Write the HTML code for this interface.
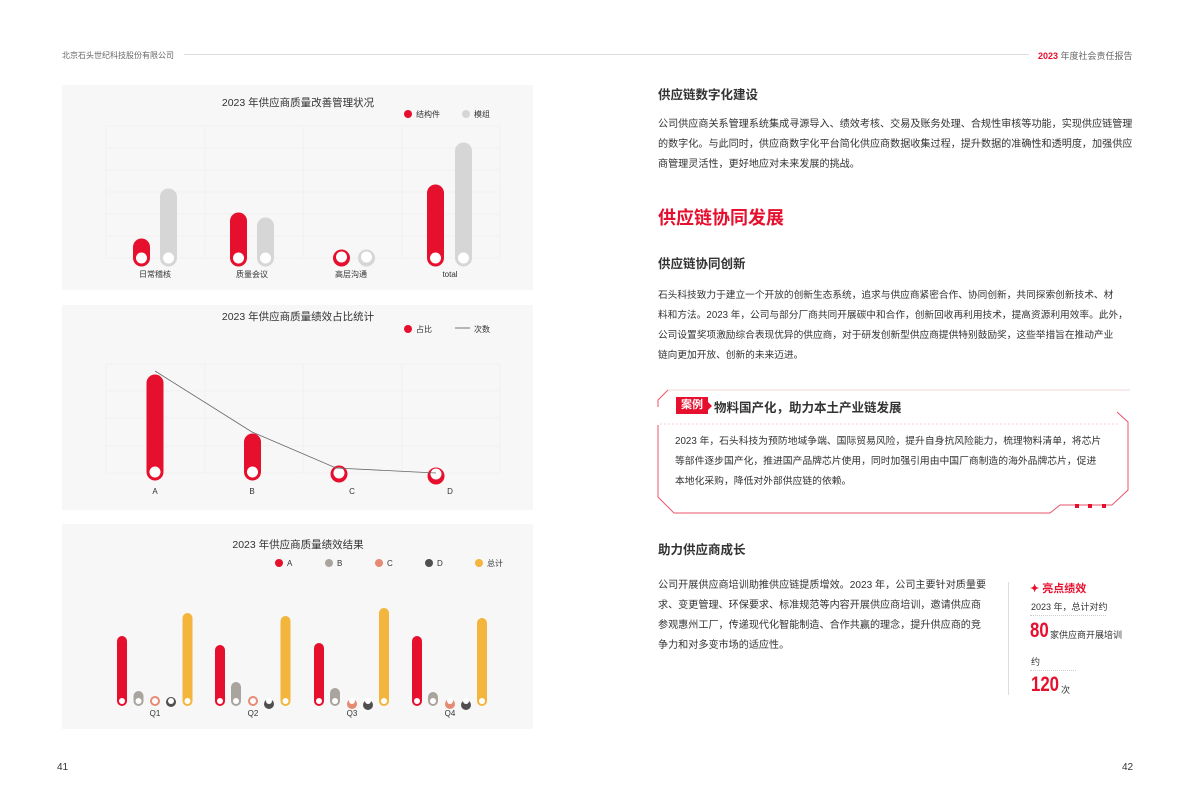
<!DOCTYPE html>
<html><head><meta charset="utf-8"><style>
*{margin:0;padding:0;box-sizing:border-box}
body{width:1191px;height:809px;background:#fff;position:relative;overflow:hidden;font-family:"Liberation Sans","Noto Sans CJK SC",sans-serif;color:#333}
.a{position:absolute;white-space:nowrap}
.p{font-size:10.1px;line-height:20px;color:#333}
.h{font-size:12.5px;font-weight:bold;color:#333}
</style></head><body>
<div class="a" style="left:62px;top:50px;font-size:8px;color:#666">北京石头世纪科技股份有限公司</div>
<div class="a" style="left:184px;top:54px;width:845px;height:1px;background:#ddd"></div>
<div class="a" style="left:1038px;top:49px;font-size:9px;color:#666"><b style="color:#e60f2d">2023</b> 年度社会责任报告</div>

<svg class="a" style="left:0;top:0" width="540" height="740" font-family="Liberation Sans,Noto Sans CJK SC,sans-serif">
<rect x="62" y="85" width="471" height="205" fill="#f6f7f6"/>
<rect x="62" y="305" width="471" height="205" fill="#f6f7f6"/>
<rect x="62" y="524" width="471" height="205" fill="#f6f7f6"/>
<g stroke="#ebeceb" stroke-width="0.6" fill="none">
<path d="M106 126H500M106 148H500M106 170H500M106 192H500M106 214H500M106 236H500M106 258H500M106 126V258M205 126V258M303 126V258M402 126V258M500 126V258"/>
<path d="M106 364H500M106 391H500M106 418H500M106 446H500M106 473H500M106 364V473M205 364V473M303 364V473M402 364V473M500 364V473"/>
</g>
<text x="298" y="106" font-size="10.5" text-anchor="middle" fill="#333">2023 年供应商质量改善管理状况</text>
<circle cx="408" cy="114" r="4" fill="#e60f2d"/><text x="416" y="117" font-size="8" fill="#333">结构件</text>
<circle cx="466" cy="114" r="4" fill="#d6d6d6"/><text x="474" y="117" font-size="8" fill="#333">模组</text>
<g stroke-linecap="round" stroke-width="17">
<line x1="141.5" y1="247" x2="141.5" y2="258" stroke="#e60f2d"/>
<line x1="168.5" y1="197" x2="168.5" y2="258" stroke="#d6d6d6"/>
<line x1="238.5" y1="221" x2="238.5" y2="258" stroke="#e60f2d"/>
<line x1="265.5" y1="226" x2="265.5" y2="258" stroke="#d6d6d6"/>
<line x1="341.5" y1="258" x2="341.5" y2="258" stroke="#e60f2d"/>
<line x1="366.5" y1="258" x2="366.5" y2="258" stroke="#d6d6d6"/>
<line x1="435.5" y1="193" x2="435.5" y2="258" stroke="#e60f2d"/>
<line x1="463.5" y1="151" x2="463.5" y2="258" stroke="#d6d6d6"/>
</g>
<g fill="#fff"><circle cx="141.5" cy="258" r="5.5"/><circle cx="168.5" cy="258" r="5.5"/><circle cx="238.5" cy="258" r="5.5"/><circle cx="265.5" cy="258" r="5.5"/><circle cx="341.5" cy="257" r="5.5"/><circle cx="366.5" cy="257" r="5.5"/><circle cx="435.5" cy="258" r="5.5"/><circle cx="463.5" cy="258" r="5.5"/></g>
<g font-size="8" text-anchor="middle" fill="#333"><text x="155" y="277">日常稽核</text><text x="252" y="277">质量会议</text><text x="351" y="277">高层沟通</text><text x="450" y="277">total</text></g>

<text x="298" y="320" font-size="10.5" text-anchor="middle" fill="#333">2023 年供应商质量绩效占比统计</text>
<circle cx="408" cy="329" r="4" fill="#e60f2d"/><text x="416" y="332" font-size="8" fill="#333">占比</text>
<line x1="455" y1="328" x2="470" y2="328" stroke="#555" stroke-width="0.8"/><text x="474" y="332" font-size="8" fill="#333">次数</text>
<g stroke-linecap="round" stroke-width="17" stroke="#e60f2d">
<line x1="155" y1="383" x2="155" y2="472"/><line x1="252.5" y1="442" x2="252.5" y2="472"/>
<line x1="339" y1="474" x2="339" y2="474"/><line x1="436" y1="476" x2="436" y2="476"/></g>
<g fill="#fff"><circle cx="155" cy="472" r="5.5"/><circle cx="252.5" cy="472" r="5.5"/><circle cx="339" cy="473" r="5.5"/><circle cx="436" cy="474" r="5.5"/></g>
<polyline points="155,371 252,432 336,468 436,473" fill="none" stroke="#666" stroke-width="0.8"/>
<g font-size="8" text-anchor="middle" fill="#333"><text x="155" y="494">A</text><text x="252" y="494">B</text><text x="352" y="494">C</text><text x="450" y="494">D</text></g>

<text x="298" y="548" font-size="10.5" text-anchor="middle" fill="#333">2023 年供应商质量绩效结果</text>
<g font-size="8" fill="#333">
<circle cx="279" cy="563" r="4" fill="#e60f2d"/><text x="287" y="566">A</text>
<circle cx="329" cy="563" r="4" fill="#aaa49f"/><text x="337" y="566">B</text>
<circle cx="379" cy="563" r="4" fill="#e58a73"/><text x="387" y="566">C</text>
<circle cx="429" cy="563" r="4" fill="#4f4f4f"/><text x="437" y="566">D</text>
<circle cx="479" cy="563" r="4" fill="#f3b53b"/><text x="487" y="566">总计</text></g>
<g stroke-linecap="round" stroke-width="10">
<line x1="122" y1="641" x2="122" y2="701" stroke="#e60f2d"/><line x1="138.5" y1="696" x2="138.5" y2="701" stroke="#aaa49f"/><line x1="155" y1="701" x2="155" y2="701" stroke="#e58a73"/><line x1="171" y1="702" x2="171" y2="702" stroke="#4f4f4f"/><line x1="187.5" y1="618" x2="187.5" y2="701" stroke="#f3b53b"/>
<line x1="220" y1="650" x2="220" y2="701" stroke="#e60f2d"/><line x1="236" y1="687" x2="236" y2="701" stroke="#aaa49f"/><line x1="253" y1="701" x2="253" y2="701" stroke="#e58a73"/><line x1="269" y1="704" x2="269" y2="704" stroke="#4f4f4f"/><line x1="285.5" y1="621" x2="285.5" y2="701" stroke="#f3b53b"/>
<line x1="319" y1="648" x2="319" y2="701" stroke="#e60f2d"/><line x1="335" y1="693" x2="335" y2="701" stroke="#aaa49f"/><line x1="352" y1="704" x2="352" y2="704" stroke="#e58a73"/><line x1="368" y1="705" x2="368" y2="705" stroke="#4f4f4f"/><line x1="384" y1="613" x2="384" y2="701" stroke="#f3b53b"/>
<line x1="417" y1="641" x2="417" y2="701" stroke="#e60f2d"/><line x1="433" y1="697" x2="433" y2="701" stroke="#aaa49f"/><line x1="450" y1="704" x2="450" y2="704" stroke="#e58a73"/><line x1="466" y1="705" x2="466" y2="705" stroke="#4f4f4f"/><line x1="482" y1="623" x2="482" y2="701" stroke="#f3b53b"/>
</g>
<g fill="#fff"><circle cx="122" cy="701" r="3"/><circle cx="138.5" cy="701" r="3"/><circle cx="155" cy="701" r="3"/><circle cx="171" cy="701" r="3"/><circle cx="187.5" cy="701" r="3"/>
<circle cx="220" cy="701" r="3"/><circle cx="236" cy="701" r="3"/><circle cx="253" cy="701" r="3"/><circle cx="269" cy="701" r="3"/><circle cx="285.5" cy="701" r="3"/>
<circle cx="319" cy="701" r="3"/><circle cx="335" cy="701" r="3"/><circle cx="352" cy="701" r="3"/><circle cx="368" cy="701" r="3"/><circle cx="384" cy="701" r="3"/>
<circle cx="417" cy="701" r="3"/><circle cx="433" cy="701" r="3"/><circle cx="450" cy="701" r="3"/><circle cx="466" cy="701" r="3"/><circle cx="482" cy="701" r="3"/></g>
<g font-size="8" text-anchor="middle" fill="#333"><text x="155" y="716">Q1</text><text x="253" y="716">Q2</text><text x="352" y="716">Q3</text><text x="450" y="716">Q4</text></g>
</svg>

<div class="a h" style="left:658px;top:84px">供应链数字化建设</div>
<div class="a p" style="left:658px;top:115px">公司供应商关系管理系统集成寻源导入、绩效考核、交易及账务处理、合规性审核等功能，实现供应链管理<br>的数字化。与此同时，供应商数字化平台简化供应商数据收集过程，提升数据的准确性和透明度，加强供应<br>商管理灵活性，更好地应对未来发展的挑战。</div>
<div class="a" style="left:658px;top:204px;font-size:18px;font-weight:bold;color:#e60f2d">供应链协同发展</div>
<div class="a h" style="left:658px;top:253px">供应链协同创新</div>
<div class="a p" style="left:658px;top:286px;font-size:9.7px">石头科技致力于建立一个开放的创新生态系统，追求与供应商紧密合作、协同创新，共同探索创新技术、材<br>料和方法。2023 年，公司与部分厂商共同开展碳中和合作，创新回收再利用技术，提高资源利用效率。此外，<br>公司设置奖项激励综合表现优异的供应商，对于研发创新型供应商提供特别鼓励奖，这些举措旨在推动产业<br>链向更加开放、创新的未来迈进。</div>

<svg class="a" style="left:650px;top:385px" width="490" height="130">
<path d="M18 5 L8 15 L8 22" fill="none" stroke="#e8556a" stroke-width="1"/>
<path d="M18 5 L480 5" stroke="#f6d5da" stroke-width="1"/>
<path d="M10 39 L470 39" stroke="#f6d5da" stroke-width="1" stroke-dasharray="2 2"/>
<path d="M8 40 L8 112 L24 128 L400 128 L410 120 L462 120 L478 105 L478 37 L467 27" fill="none" stroke="#e8556a" stroke-width="1"/>
<rect x="425" y="119" width="4" height="4" fill="#e60f2d"/><rect x="438" y="119" width="4" height="4" fill="#e60f2d"/><rect x="452" y="119" width="4" height="4" fill="#e60f2d"/>
</svg>
<div class="a" style="left:676px;top:397px;width:32px;height:17px;background:#e60f2d;color:#fff;font-size:11px;font-weight:bold;line-height:17px;text-align:center">案例</div>
<div class="a" style="left:708px;top:402px;width:0;height:0;border-left:4px solid #e60f2d;border-top:4px solid transparent;border-bottom:4px solid transparent"></div>
<div class="a h" style="left:714px;top:397px">物料国产化，助力本土产业链发展</div>
<div class="a p" style="left:675px;top:432px;font-size:9.8px">2023 年，石头科技为预防地域争端、国际贸易风险，提升自身抗风险能力，梳理物料清单，将芯片<br>等部件逐步国产化，推进国产品牌芯片使用，同时加强引用由中国厂商制造的海外品牌芯片，促进<br>本地化采购，降低对外部供应链的依赖。</div>

<div class="a h" style="left:658px;top:539px">助力供应商成长</div>
<div class="a p" style="left:658px;top:576px">公司开展供应商培训助推供应链提质增效。2023 年，公司主要针对质量要<br>求、变更管理、环保要求、标准规范等内容开展供应商培训，邀请供应商<br>参观惠州工厂，传递现代化智能制造、合作共赢的理念，提升供应商的竞<br>争力和对多变市场的适应性。</div>
<div class="a" style="left:1008px;top:582px;width:1px;height:113px;background:#ddd"></div>
<div class="a" style="left:1030px;top:580px;font-size:11px;font-weight:bold;color:#e60f2d">✦ 亮点绩效</div>
<div class="a" style="left:1031px;top:600px;font-size:9px;color:#333">2023 年，总计对约</div>
<div class="a" style="left:1030px;top:615px;width:76px;height:1px;border-top:1px dotted #ccc"></div>
<div class="a" style="left:1030px;top:619px;font-size:21px;font-weight:bold;color:#e60f2d;transform:scaleX(0.8);transform-origin:left">80</div>
<div class="a" style="left:1050px;top:628px;font-size:9px;color:#333">家供应商开展培训</div>
<div class="a" style="left:1031px;top:655px;font-size:9px;color:#333">约</div>
<div class="a" style="left:1030px;top:670px;width:46px;height:1px;border-top:1px dotted #ccc"></div>
<div class="a" style="left:1031px;top:673px;font-size:21px;font-weight:bold;color:#e60f2d;transform:scaleX(0.8);transform-origin:left">120</div>
<div class="a" style="left:1061px;top:683px;font-size:9px;color:#333">次</div>

<div class="a" style="left:57px;top:762px;font-size:10px;color:#333">41</div>
<div class="a" style="left:1122px;top:762px;font-size:10px;color:#333">42</div>
</body></html>
